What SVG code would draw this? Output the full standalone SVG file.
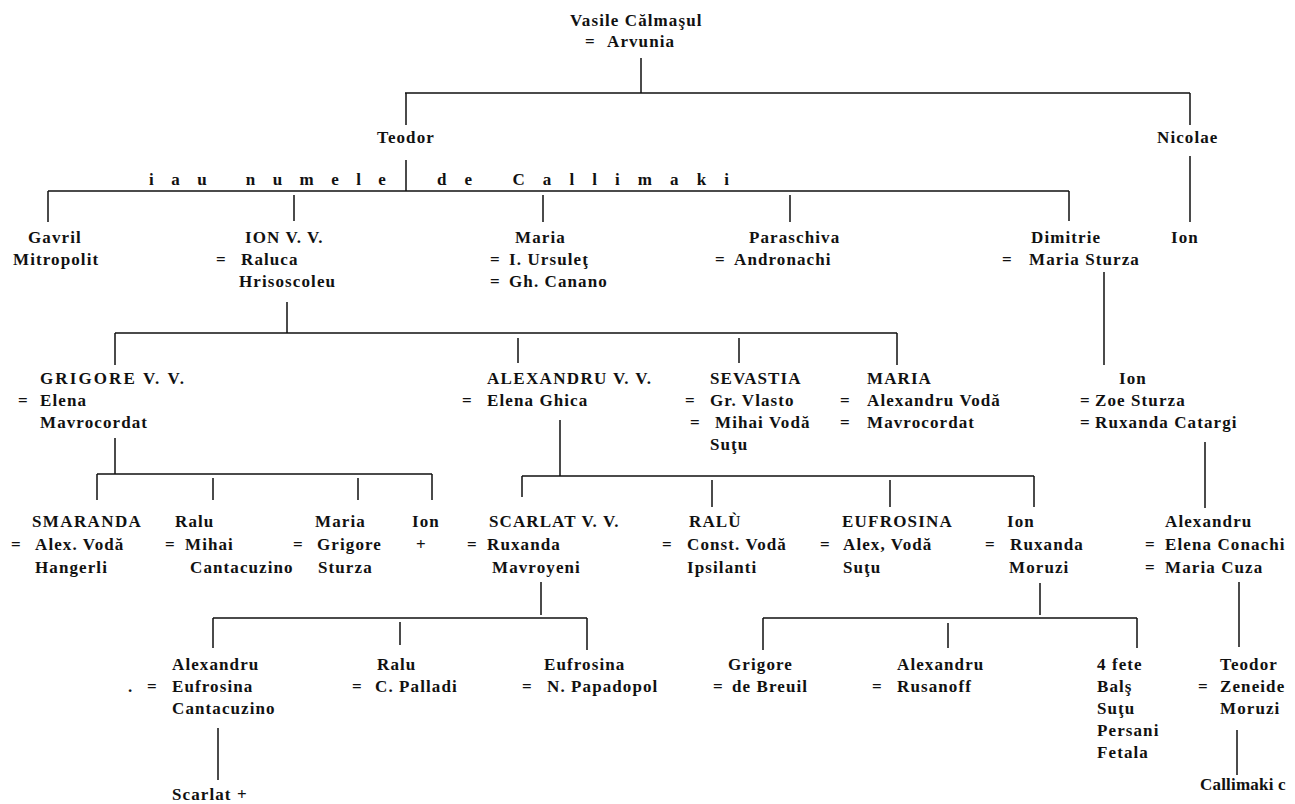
<svg xmlns="http://www.w3.org/2000/svg" width="1295" height="804" viewBox="0 0 1295 804">
<style>
.t{font-family:"Liberation Serif","Times New Roman",serif;font-weight:bold;font-size:17px;letter-spacing:1.1px;fill:#111}
.c{stroke:#111;stroke-width:1.5;fill:none}
</style>
<rect width="1295" height="804" fill="#fff"/>
<g id="connectors" class="c">
<path d="M641 58V93M405 93H1190M406 93V125M1190 93V125M406 160V191M1190 156V222"/>
<path d="M48 191H1069M48 191V222M294 195V221M543 195V222M790 195V222M1069 191V221"/>
<path d="M287 302V333M115 333H897M115 333V365M518 338V363M739 338V363M897 333V365M1104 272V365"/>
<path d="M115 438V474M97 474H432M97 474V500M213 478V500M358 478V500M432 474V500"/>
<path d="M560 420V476M522 476H1034M522 476V497M712 480V507M890 480V507M1034 476V507M1205 442V508"/>
<path d="M541 582V615M213 618H587M213 618V648M400 622V645M587 618V650"/>
<path d="M1040 583V615M763 618H1137M763 618V650M948 623V648M1137 618V648M1239 582V647"/>
<path d="M218 728V780M1237 730V775"/>
</g>
<g id="label-callimaki">
<text class="t" x="149" y="185" textLength="238" lengthAdjust="spacing">iau numele</text>
<text class="t" x="437" y="185" textLength="293" lengthAdjust="spacing">de Callimaki</text>
</g>
<g id="n-vasile"><text class="t" x="570" y="26">Vasile Călmaşul</text><text class="t" y="47"><tspan x="585">= </tspan><tspan x="607">Arvunia</tspan></text></g>
<g id="n-teodor"><text class="t" x="377" y="143">Teodor</text></g>
<g id="n-nicolae"><text class="t" x="1157" y="143">Nicolae</text></g>
<g id="n-gavril"><text class="t" x="28" y="243">Gavril</text><text class="t" x="13" y="265">Mitropolit</text></g>
<g id="n-ion-vv"><text class="t" x="245" y="243">ION V. V.</text><text class="t" y="265"><tspan x="216">= </tspan><tspan x="241">Raluca</tspan></text><text class="t" x="239" y="287">Hrisoscoleu</text></g>
<g id="n-maria-1"><text class="t" x="515" y="243">Maria</text><text class="t" y="265"><tspan x="490">= </tspan><tspan x="509">I. Ursuleţ</tspan></text><text class="t" y="287"><tspan x="490">= </tspan><tspan x="509">Gh. Canano</tspan></text></g>
<g id="n-paraschiva"><text class="t" x="749" y="243">Paraschiva</text><text class="t" y="265"><tspan x="715">= </tspan><tspan x="734">Andronachi</tspan></text></g>
<g id="n-dimitrie"><text class="t" x="1031" y="243">Dimitrie</text><text class="t" y="265"><tspan x="1002">= </tspan><tspan x="1029">Maria Sturza</tspan></text></g>
<g id="n-ion-nicolae"><text class="t" x="1171" y="243">Ion</text></g>
<g id="n-grigore-vv"><text class="t" x="40" y="384" textLength="145" lengthAdjust="spacing">GRIGORE V. V.</text><text class="t" y="406"><tspan x="18">= </tspan><tspan x="40">Elena</tspan></text><text class="t" x="40" y="428">Mavrocordat</text></g>
<g id="n-alexandru-vv"><text class="t" x="487" y="384" textLength="165" lengthAdjust="spacing">ALEXANDRU V. V.</text><text class="t" y="406"><tspan x="462">= </tspan><tspan x="487">Elena Ghica</tspan></text></g>
<g id="n-sevastia"><text class="t" x="710" y="384">SEVASTIA</text><text class="t" y="406"><tspan x="685">= </tspan><tspan x="710">Gr. Vlasto</tspan></text><text class="t" y="428"><tspan x="690">= </tspan><tspan x="715">Mihai Vodă</tspan></text><text class="t" x="710" y="450">Suţu</text></g>
<g id="n-maria-2"><text class="t" x="867" y="384">MARIA</text><text class="t" y="406"><tspan x="840">= </tspan><tspan x="867">Alexandru Vodă</tspan></text><text class="t" y="428"><tspan x="840">= </tspan><tspan x="867">Mavrocordat</tspan></text></g>
<g id="n-ion-dimitrie"><text class="t" x="1119" y="384">Ion</text><text class="t" y="406"><tspan x="1080">= </tspan><tspan x="1095">Zoe Sturza</tspan></text><text class="t" y="428"><tspan x="1080">= </tspan><tspan x="1095">Ruxanda Catargi</tspan></text></g>
<g id="n-smaranda"><text class="t" x="32" y="527" textLength="110" lengthAdjust="spacing">SMARANDA</text><text class="t" y="550"><tspan x="11">= </tspan><tspan x="35">Alex. Vodă</tspan></text><text class="t" x="35" y="573">Hangerli</text></g>
<g id="n-ralu-1"><text class="t" x="175" y="527">Ralu</text><text class="t" y="550"><tspan x="165">= </tspan><tspan x="185">Mihai</tspan></text><text class="t" x="190" y="573">Cantacuzino</text></g>
<g id="n-maria-3"><text class="t" x="315" y="527">Maria</text><text class="t" y="550"><tspan x="293">= </tspan><tspan x="317">Grigore</tspan></text><text class="t" x="318" y="573">Sturza</text></g>
<g id="n-ion-grigore"><text class="t" x="412" y="527">Ion</text><text class="t" x="416" y="550">+</text></g>
<g id="n-scarlat-vv"><text class="t" x="489" y="527">SCARLAT V. V.</text><text class="t" y="550"><tspan x="467">= </tspan><tspan x="487">Ruxanda</tspan></text><text class="t" x="492" y="573">Mavroyeni</text></g>
<g id="n-ralu-2"><text class="t" x="689" y="527">RALÙ</text><text class="t" y="550"><tspan x="662">= </tspan><tspan x="687">Const. Vodă</tspan></text><text class="t" x="687" y="573">Ipsilanti</text></g>
<g id="n-eufrosina-1"><text class="t" x="842" y="527" textLength="111" lengthAdjust="spacing">EUFROSINA</text><text class="t" y="550"><tspan x="820">= </tspan><tspan x="843">Alex, Vodă</tspan></text><text class="t" x="843" y="573">Suţu</text></g>
<g id="n-ion-alexandru"><text class="t" x="1007" y="527">Ion</text><text class="t" y="550"><tspan x="985">= </tspan><tspan x="1010">Ruxanda</tspan></text><text class="t" x="1009" y="573">Moruzi</text></g>
<g id="n-alexandru-ion"><text class="t" x="1165" y="527">Alexandru</text><text class="t" y="550"><tspan x="1145">= </tspan><tspan x="1165">Elena Conachi</tspan></text><text class="t" y="573"><tspan x="1145">= </tspan><tspan x="1165">Maria Cuza</tspan></text></g>
<g id="n-alexandru-scarlat"><text class="t" x="172" y="670">Alexandru</text><text class="t" y="692"><tspan x="128">. </tspan><tspan x="147">= </tspan><tspan x="172">Eufrosina</tspan></text><text class="t" x="172" y="714">Cantacuzino</text></g>
<g id="n-ralu-3"><text class="t" x="377" y="670">Ralu</text><text class="t" y="692"><tspan x="352">= </tspan><tspan x="375">C. Palladi</tspan></text></g>
<g id="n-eufrosina-2"><text class="t" x="544" y="670">Eufrosina</text><text class="t" y="692"><tspan x="522">= </tspan><tspan x="547">N. Papadopol</tspan></text></g>
<g id="n-grigore"><text class="t" x="728" y="670">Grigore</text><text class="t" y="692"><tspan x="713">= </tspan><tspan x="732">de Breuil</tspan></text></g>
<g id="n-alexandru-3"><text class="t" x="897" y="670">Alexandru</text><text class="t" y="692"><tspan x="872">= </tspan><tspan x="897">Rusanoff</tspan></text></g>
<g id="n-4fete"><text class="t" x="1097" y="670">4 fete</text><text class="t" x="1097" y="692">Balş</text><text class="t" x="1097" y="714">Suţu</text><text class="t" x="1097" y="736">Persani</text><text class="t" x="1097" y="758">Fetala</text></g>
<g id="n-teodor-2"><text class="t" x="1220" y="670">Teodor</text><text class="t" y="692"><tspan x="1198">= </tspan><tspan x="1220">Zeneide</tspan></text><text class="t" x="1220" y="714">Moruzi</text></g>
<g id="n-scarlat"><text class="t" x="172" y="800">Scarlat +</text></g>
<g id="n-callimaki"><text class="t" x="1200" y="790" style="letter-spacing:0.2px">Callimaki c</text></g>
</svg>
